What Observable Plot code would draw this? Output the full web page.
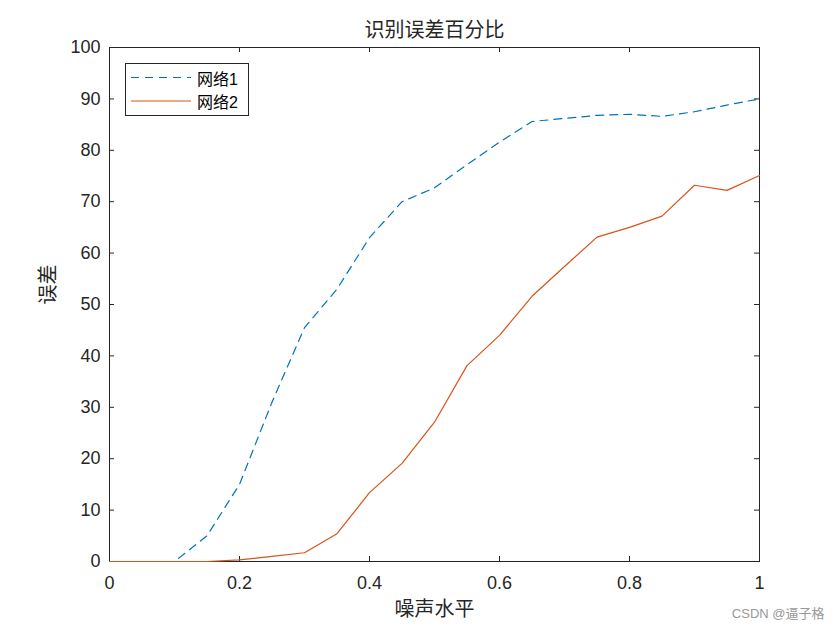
<!DOCTYPE html>
<html>
<head>
<meta charset="utf-8">
<script src="https://cdn.jsdelivr.net/npm/d3@7"></script>
<script src="https://cdn.jsdelivr.net/npm/@observablehq/plot@0.6"></script>
<style>
  html, body { margin: 0; padding: 0; background: #fff; }
  #chart { width: 840px; height: 630px; }
</style>
</head>
<body>
<div id="chart"></div>
<script>
const noise = [0, 0.05, 0.1, 0.15, 0.2, 0.25, 0.3, 0.35, 0.4, 0.45, 0.5, 0.55, 0.6, 0.65, 0.7, 0.75, 0.8, 0.85, 0.9, 0.95, 1];
const net1 = [0, 0, 0, 5, 15, 31, 45.5, 53, 63, 70, 72.7, 77.2, 81.6, 85.6, 86.2, 86.8, 87.0, 86.6, 87.5, 88.8, 90];
const net2 = [0, 0, 0, 0, 0.3, 1.0, 1.7, 5.4, 13.4, 19.1, 27.1, 38.1, 44, 51.6, 57.4, 63.1, 65, 67.2, 73.2, 72.2, 75.1];
const seriesNames = ["网络1", "网络2"];
const seriesColors = ["#0072BD", "#D95319"];
const xTicks = [0, 0.2, 0.4, 0.6, 0.8, 1];
const yTicks = [0, 10, 20, 30, 40, 50, 60, 70, 80, 90, 100];
const titleText = "识别误差百分比";
const xLabel = "噪声水平";
const yLabel = "误差";
const watermark = "CSDN @逼子格";

const d1 = noise.map((x, i) => ({x, y: net1[i]}));
const d2 = noise.map((x, i) => ({x, y: net2[i]}));

const axisColor = "#262626";
const font = "'Liberation Sans', Arial, 'Noto Sans CJK SC', sans-serif";
const W = 840, H = 630, mL = 109, mR = 81, mT = 47, mB = 69;
const innerW = W - mL - mR, innerH = H - mT - mB;
const tl = 5;

const chart = Plot.plot({
  width: W, height: H,
  marginLeft: mL, marginRight: mR, marginTop: mT, marginBottom: mB,
  x: {domain: [0, 1]},
  y: {domain: [0, 100]},
  style: {fontFamily: font, fontSize: "18px", color: axisColor, background: "white", overflow: "visible"},
  marks: [
    Plot.frame({stroke: axisColor, strokeWidth: 1}),
    Plot.tickX(xTicks, {x: d => d, insetTop: innerH - tl, stroke: axisColor}),
    Plot.tickX(xTicks, {x: d => d, insetBottom: innerH - tl, stroke: axisColor}),
    Plot.tickY(yTicks, {y: d => d, insetRight: innerW - tl, stroke: axisColor}),
    Plot.tickY(yTicks, {y: d => d, insetLeft: innerW - tl, stroke: axisColor}),
    Plot.axisX(xTicks, {tickSize: 0, tickPadding: 15, tickFormat: d => String(d), label: null, fontSize: 18, fill: axisColor}),
    Plot.axisY(yTicks, {tickSize: 0, tickPadding: 9, label: null, fontSize: 18, fill: axisColor}),
    Plot.line(d1, {x: "x", y: "y", stroke: seriesColors[0], strokeWidth: 1.2, strokeDasharray: "8,6"}),
    Plot.line(d2, {x: "x", y: "y", stroke: seriesColors[1], strokeWidth: 1.2}),
    Plot.text([titleText], {text: d => d, frameAnchor: "top", lineAnchor: "middle", dy: -17, fontSize: 20, fill: axisColor}),
    Plot.text([xLabel], {text: d => d, frameAnchor: "bottom", lineAnchor: "middle", dy: 48, fontSize: 20, fill: axisColor}),
    Plot.text([yLabel], {text: d => d, frameAnchor: "left", lineAnchor: "middle", dx: -61, rotate: -90, fontSize: 20, fill: axisColor}),
    Plot.text([watermark], {text: d => d, frameAnchor: "bottom-right", lineAnchor: "middle", dx: 65, dy: 52, textAnchor: "end", fontSize: 13, fill: "#999999"})
  ]
});

// Make sure the data lines sit above the axis box (as in the MATLAB original)
const svg = d3.select(chart);
svg.selectAll("[aria-label='line']").raise();

// Legend (MATLAB-style box, upper left)
const lg = svg.append("g").attr("font-family", font).attr("font-size", 16).attr("text-anchor", "start");
lg.append("rect").attr("x", 125.5).attr("y", 63.5).attr("width", 123).attr("height", 52)
  .attr("fill", "white").attr("stroke", axisColor).attr("stroke-width", 1);
seriesNames.forEach((name, i) => {
  const y = 77.5 + i * 23.5;
  lg.append("line").attr("x1", 131).attr("x2", 191).attr("y1", y).attr("y2", y)
    .attr("stroke", seriesColors[i]).attr("stroke-width", 1.2)
    .attr("stroke-dasharray", i === 0 ? "8,6" : null);
  lg.append("text").attr("x", 197).attr("y", y + 1.5).attr("dy", "0.35em").attr("fill", "#000").text(name);
});

document.getElementById("chart").appendChild(chart);
</script>
</body>
</html>
